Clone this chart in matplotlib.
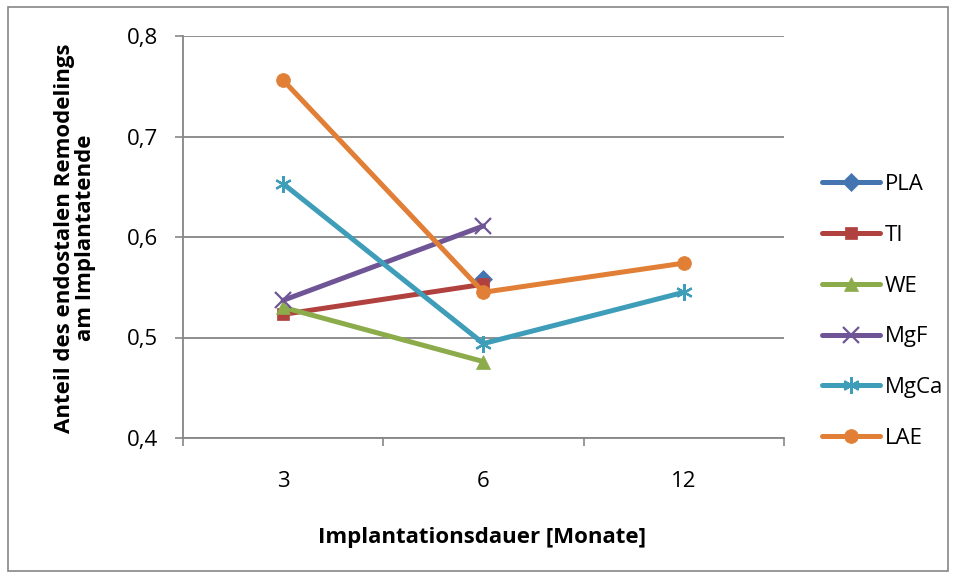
import numpy as np
import matplotlib
matplotlib.use("Agg")
from matplotlib import pyplot as plt
from matplotlib.patches import Rectangle

plt.rcParams['font.family'] = ['Open Sans', 'DejaVu Sans']

# category axis (months)
months = ["3", "6", "12"]

# values per group, NaN where there is no measurement
pla = [np.nan, 0.558, np.nan]
ti = [0.523, 0.553, np.nan]
we = [0.530, 0.476, np.nan]
mgf = [0.537, 0.611, np.nan]
mgca = [0.653, 0.494, 0.545]
lae = [0.756, 0.545, 0.574]

series = [
    ("PLA", pla, "#4575B0", "D", 9),
    ("TI", ti, "#B0413E", "s", 8),
    ("WE", we, "#8CAC4C", "^", 10),
    ("MgF", mgf, "#6F5596", "x", 11),
    ("MgCa", mgca, "#3E9DB8", (6, 2, 0), 12),
    ("LAE", lae, "#E07F35", "o", 10),
]

fig = plt.figure(figsize=(9.55, 5.77), dpi=100)
ax = fig.add_axes([183 / 955, 1 - 438 / 577, 601 / 955, 402 / 577])

x = np.arange(len(months))
for name, vals, col, mk, ms in series:
    ax.plot(x, vals, color=col, linewidth=3.6, marker=mk, markersize=ms,
            markeredgewidth=1.6 if mk in ("x", (6, 2, 0)) else 0.5,
            markeredgecolor=col, markerfacecolor=col, label=name,
            solid_capstyle="round")

ax.set_xlim(-0.5, 2.5)
ax.set_ylim(0.4, 0.8)
ax.set_yticks([0.4, 0.5, 0.6, 0.7, 0.8])
ax.set_yticklabels(["0,4", "0,5", "0,6", "0,7", "0,8"])
ax.set_xticks(x)
ax.set_xticklabels(months)
ax.set_xticks([-0.5, 0.5, 1.5, 2.5], minor=True)
ax.tick_params(axis="x", which="major", length=0, pad=24, labelsize=16)
ax.tick_params(axis="x", which="minor", length=6, width=1.2, color="#868686")
ax.tick_params(axis="y", length=6, width=1.2, color="#868686", pad=12, labelsize=16)
ax.grid(axis="y", color="#868686", linewidth=1.3)
ax.set_axisbelow(True)
for side in ("top", "right"):
    ax.spines[side].set_visible(False)
for side in ("left", "bottom"):
    ax.spines[side].set_color("#868686")
    ax.spines[side].set_linewidth(1.3)

fig.text(75 / 955, 1 - 238 / 577, "Anteil des endostalen Remodelings\nam Implantatende",
         rotation=90, ha="center", va="center", fontsize=16, fontweight="bold",
         linespacing=1.05)
fig.text(482 / 955, 1 - 537 / 577, "Implantationsdauer [Monate]",
         ha="center", va="center", fontsize=16, fontweight="bold")

fig.legend(loc="upper left", bbox_to_anchor=(802 / 955, 1 - 154 / 577),
           frameon=False, fontsize=16, handlelength=2.6, labelspacing=1.34,
           handletextpad=0.22)

fig.patches.append(Rectangle((8 / 955, 6 / 577), 940 / 955, 564 / 577,
                             transform=fig.transFigure, fill=False,
                             edgecolor="#868686", linewidth=1.2))

fig.savefig("out.png", dpi=100)
